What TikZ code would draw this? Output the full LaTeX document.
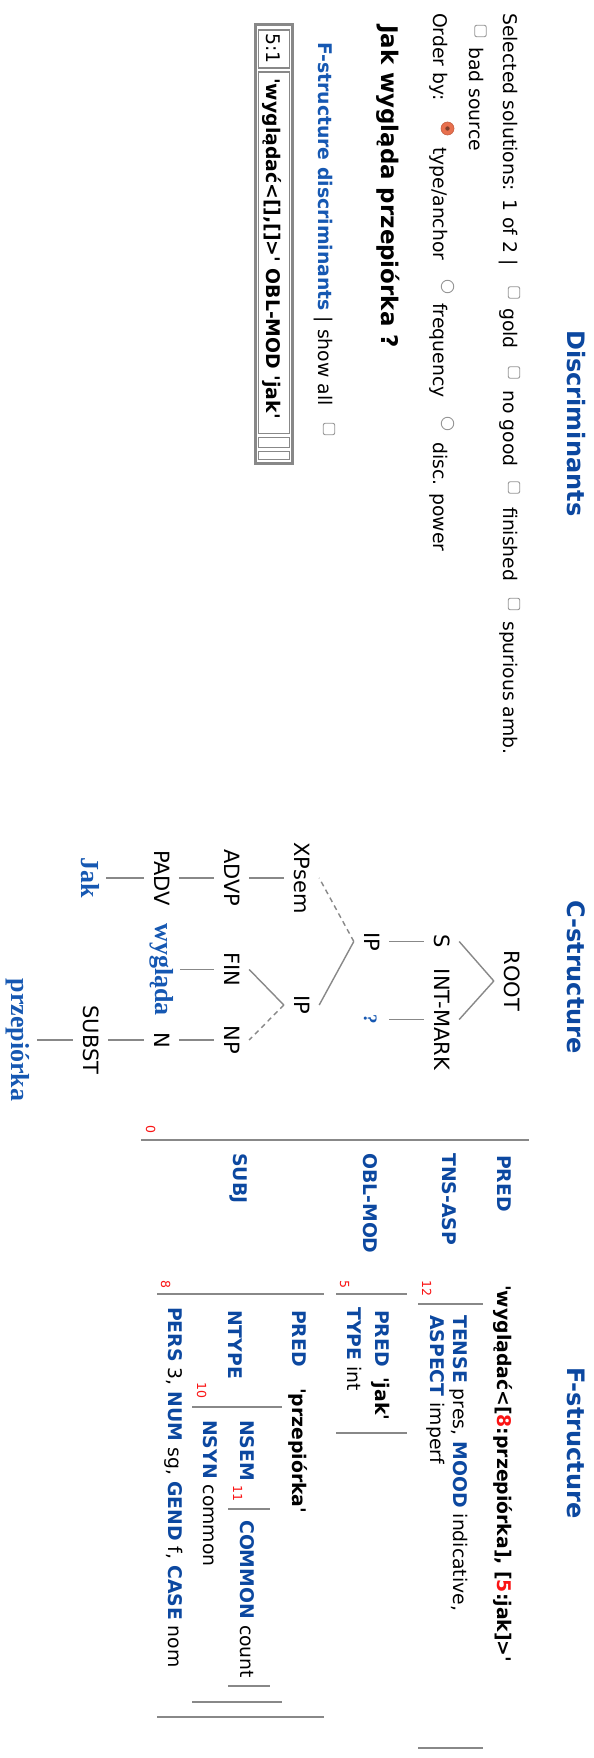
\documentclass[tikz,border=0pt]{standalone}
\usepackage{fontspec}
\newfontfamily\dvs{DejaVu Sans}
\newfontfamily\tms{Liberation Serif}
\definecolor{tblue}{RGB}{12,72,160}
\definecolor{lblue}{RGB}{22,88,178}
\definecolor{nred}{RGB}{250,20,20}
\definecolor{lgray}{RGB}{136,136,136}
\definecolor{bgray}{RGB}{150,150,150}
\definecolor{rorange}{RGB}{232,112,78}
\newcommand\fatt[1]{{\bfseries\color{tblue}#1}}
\begin{document}
\begin{tikzpicture}[x=1pt,y=-1pt]
\tikzset{
 txt/.style={rotate=-90, anchor=base west, inner sep=0pt, font=\dvs\fontsize{18.8}{22}\selectfont},
 btxt/.style={txt, font=\dvs\bfseries\fontsize{18.8}{22}\selectfont},
 ttl/.style={txt, font=\dvs\bfseries\fontsize{24}{28}\selectfont, text=tblue},
 fattr/.style={btxt, text=tblue},
 num/.style={txt, font=\dvs\fontsize{12.5}{14}\selectfont, text=nred},
 cnode/.style={rotate=-90, anchor=base, inner xsep=2pt, inner ysep=8.5pt, text height=16.5pt, text depth=1.5pt, font=\dvs\fontsize{21}{24}\selectfont},
 term/.style={cnode, font=\tms\bfseries\fontsize{26}{30}\selectfont, text=lblue},
 tline/.style={draw=lgray, line width=1.4pt},
 dline/.style={tline, dash pattern=on 5pt off 4pt},
 brk/.style={draw=lgray, line width=2.6pt},
 cbox/.style={draw=bgray, fill=white, line width=0.9pt, rounded corners=2pt, minimum size=11.5pt, inner sep=0pt},
 rbox/.style={circle, draw=bgray, fill=white, line width=0.9pt, minimum size=12.5pt, inner sep=0pt},
}
\fill[white] (0,0) rectangle (594,1758);
\useasboundingbox (0,0) rectangle (594,1758);

% ---------- Discriminants ----------
\node[ttl] (dtitle) at (567,330) {Discriminants};
\node[txt] (sel) at (503,13) {Selected solutions: 1 of 2 |};
\node[cbox] (cb1) at (514,292.5) {};
\node[txt] (gold) at (503,308) {gold};
\node[cbox] (cb2) at (514,372.5) {};
\node[txt] (nogood) at (503,390) {no good};
\node[cbox] (cb3) at (514,487.5) {};
\node[txt] (fin1) at (503,507) {finished};
\node[cbox] (cb4) at (514,604) {};
\node[txt] (spur) at (503,621) {spurious amb.};
\node[cbox] (cb5) at (480.5,31) {};
\node[txt] (bad) at (469,47) {bad source};
\node[txt] (order) at (433,13) {Order by:};
\node[circle, fill=rorange, draw=rorange!85!black, line width=0.6pt, minimum size=13pt, inner sep=0pt] (r1) at (447.5,128.5) {};
\fill[rorange!55!black] (r1.center) circle (2.2pt);
\node[txt] (type) at (433,147) {type/anchor};
\node[rbox] (r2) at (447.5,286.5) {};
\node[txt] (freq) at (433,303) {frequency};
\node[rbox] (r3) at (447.5,423.5) {};
\node[txt] (disc) at (433,442) {disc. power};
\node[txt, font=\dvs\bfseries\fontsize{22.9}{26}\selectfont] (sent) at (381,25) {Jak wygląda przepiórka ?};
\node[txt] (fsd) at (318,42) {{\bfseries\color{lblue}F-structure discriminants} | show all};
\node[cbox] (cb6) at (329,429) {};
% table
\draw[lgray, line width=3pt] (255.5,24.5) rectangle (292.5,463.5);
\draw[lgray, line width=1.2pt] (258.5,30) rectangle (289.5,68);
\draw[lgray, line width=1.2pt] (258.5,72) rectangle (289.5,433.5);
\draw[lgray, line width=1.2pt] (258.5,437.5) rectangle (289.5,447.5);
\draw[lgray, line width=1.2pt] (258.5,451.5) rectangle (289.5,459.5);
\node[txt] (c51) at (266,33) {5:1};
\node[btxt] (cdesc) at (266,78) {'wyglądać<[],[]>' OBL-MOD 'jak'};

% ---------- C-structure ----------
\node[ttl] (ctitle) at (567,900) {C-structure};
\node[cnode] (root) at (504,981) {ROOT};
\node[cnode] (s) at (434,941.5) {S};
\node[cnode] (intm) at (434,1019.5) {INT-MARK};
\node[cnode] (ip1) at (364,941.5) {IP};
\node[term, font=\tms\bfseries\fontsize{19}{22}\selectfont] (q) at (364,1019.5) {?};
\node[cnode] (xp) at (294,878) {XPsem};
\node[cnode] (ip2) at (294,1005) {IP};
\node[cnode] (advp) at (224,878) {ADVP};
\node[cnode] (fin) at (224,969.5) {FIN};
\node[cnode] (np) at (224,1040) {NP};
\node[cnode] (padv) at (154,878) {PADV};
\node[term] (wyg) at (155,969.5) {wygląda};
\node[cnode] (n) at (154,1040) {N};
\node[term] (jak) at (81,878) {Jak};
\node[cnode] (subst) at (83,1040) {SUBST};
\node[term] (prz) at (12,1040) {przepiórka};
\draw[tline] (root.south) -- (s.north);
\draw[tline] (root.south) -- (intm.north);
\draw[tline] (s.south) -- (ip1.north);
\draw[tline] (intm.south) -- (q.north);
\draw[dline] (ip1.south) -- (xp.north);
\draw[tline] (ip1.south) -- (ip2.north);
\draw[tline] (xp.south) -- (advp.north);
\draw[tline] (advp.south) -- (padv.north);
\draw[tline] (padv.south) -- (jak.north);
\draw[tline] (ip2.south) -- (fin.north);
\draw[dline] (ip2.south) -- (np.north);
\draw[tline] (fin.south) -- (wyg.north);
\draw[tline] (np.south) -- (n.north);
\draw[tline] (n.south) -- (subst.north);
\draw[tline] (subst.south) -- (prz.north);

% ---------- F-structure ----------
\node[ttl] (ftitle) at (567,1367) {F-structure};
\node[num] (n0) at (146,1125) {0};
\draw[brk] (141,1140) -- (529,1140);
\node[fattr] (pred0) at (497,1155) {PRED};
\node[fattr] (tns0) at (442,1153) {TNS-ASP};
\node[fattr] (obl0) at (363,1153) {OBL-MOD};
\node[fattr] (subj0) at (233,1153) {SUBJ};
\node[btxt] (predv) at (497,1285) {'wyglądać<[\textcolor{nred}{8}:przepiórka], [\textcolor{nred}{5}:jak]>'};
% TNS-ASP
\node[num] (n12) at (422,1280) {12};
\draw[brk] (418,1304) -- (483,1304);
\draw[brk] (418,1748) -- (483,1748);
\node[txt] (tense) at (453,1315) {\fatt{TENSE} pres, \fatt{MOOD} indicative,};
\node[txt] (aspect) at (430,1315) {\fatt{ASPECT} imperf};
% OBL-MOD
\node[num] (n5) at (340,1280) {5};
\draw[brk] (336,1294) -- (407,1294);
\draw[brk] (336,1433) -- (407,1433);
\node[fattr] (pred5) at (375,1310) {PRED};
\node[btxt] (jakv) at (375,1377) {'jak'};
\node[txt] (type5) at (347,1307) {\fatt{TYPE} int};
% SUBJ
\node[num] (n8) at (161,1280) {8};
\draw[brk] (157,1294) -- (324,1294);
\draw[brk] (157,1717) -- (324,1717);
\node[fattr] (pred8) at (292,1310) {PRED};
\node[btxt] (przv) at (292,1388) {'przepiórka'};
\node[fattr] (ntype) at (228,1310) {NTYPE};
\node[num] (n10) at (197,1382) {10};
\draw[brk] (192,1407) -- (282,1407);
\draw[brk] (192,1702) -- (282,1702);
\node[fattr] (nsem) at (240,1420) {NSEM};
\node[num] (n11) at (233,1485) {11};
\draw[brk] (228,1509) -- (270,1509);
\draw[brk] (228,1686) -- (270,1686);
\node[txt] (common) at (240,1520) {\fatt{COMMON} count};
\node[txt] (nsyn) at (203,1420) {\fatt{NSYN} common};
\node[txt] (pers) at (168,1307) {\fatt{PERS} 3, \fatt{NUM} sg, \fatt{GEND} f, \fatt{CASE} nom};
\end{tikzpicture}
\end{document}
